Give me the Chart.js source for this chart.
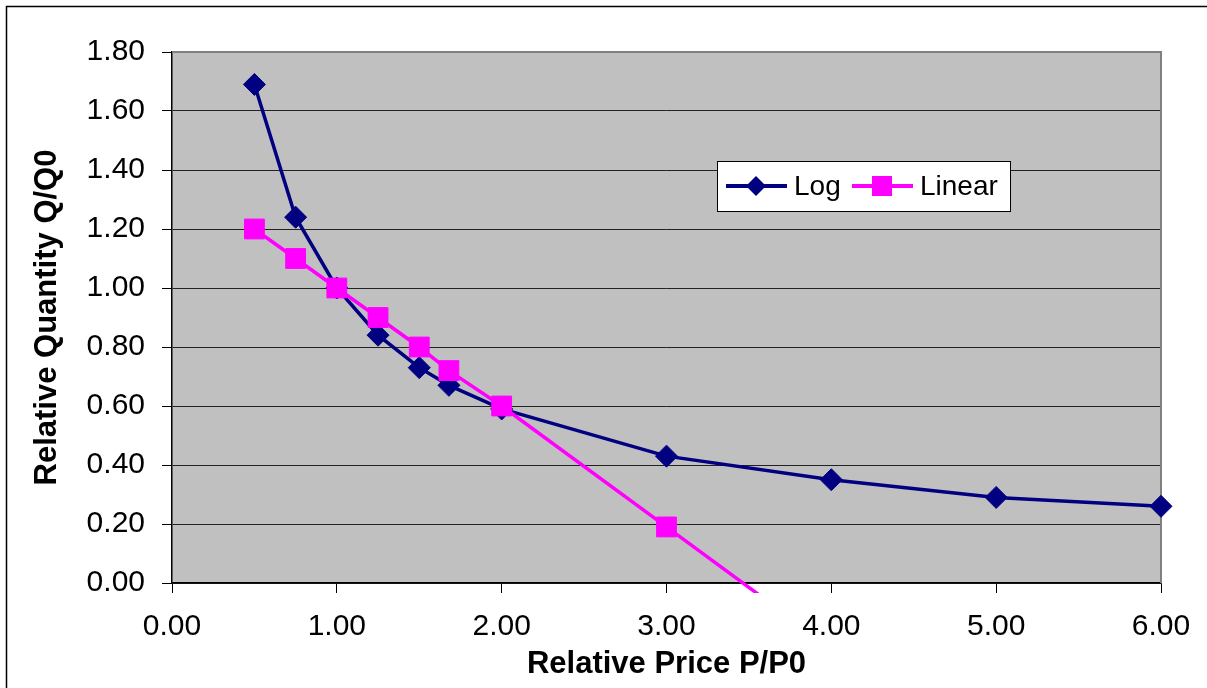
<!DOCTYPE html>
<html>
<head>
<meta charset="utf-8">
<script src="https://cdn.jsdelivr.net/npm/chart.js@4/dist/chart.umd.min.js"></script>
<style>
  body { margin: 0; background: #fff; }
  canvas { display: block; }
</style>
</head>
<body>
<canvas id="demandChart" width="1207" height="688"></canvas>
<script>
// data
const prices = [0.5, 0.75, 1.0, 1.25, 1.5, 1.68, 2.0, 3.0, 4.0, 5.0, 6.0]
const logQty = [1.69, 1.24, 1.0, 0.84, 0.73, 0.67, 0.59, 0.43, 0.35, 0.29, 0.26]
const linearQty = [1.2, 1.1, 1.0, 0.9, 0.8, 0.72, 0.6, 0.19, -0.22]
const xTicks = [0, 1, 2, 3, 4, 5, 6]
const yTicks = [0, 0.2, 0.4, 0.6, 0.8, 1.0, 1.2, 1.4, 1.6, 1.8]

const NAVY = '#000080'
const MAGENTA = '#ff00ff'
const FONT = 'Arial, "Liberation Sans", sans-serif'

const toPoints = (ys) => ys.map((y, i) => ({ x: prices[i], y: y }))

// grey plot area, frame and outer border
const plotFrame = {
  id: 'plotFrame',
  beforeDraw(chart) {
    const { ctx, chartArea: a } = chart
    ctx.save()
    ctx.fillStyle = '#c0c0c0'
    ctx.fillRect(a.left, a.top, a.right - a.left, a.bottom - a.top)
    ctx.strokeStyle = '#000'
    ctx.lineWidth = 1.5
    ctx.strokeRect(6.5, 6.5, 1400, 1000)
    ctx.restore()
  },
  beforeDatasetsDraw(chart) {
    const { ctx, chartArea: a } = chart
    ctx.save()
    ctx.strokeStyle = '#808080'
    ctx.lineWidth = 2
    ctx.beginPath()
    ctx.moveTo(a.left, a.top)
    ctx.lineTo(a.right, a.top)
    ctx.lineTo(a.right, a.bottom)
    ctx.stroke()
    ctx.restore()
  }
}

// boxed legend inside the plot, like the original
const boxLegend = {
  id: 'boxLegend',
  afterDraw(chart) {
    const ctx = chart.ctx
    const x0 = 717, y0 = 161, w = 293, h = 50
    const cy = y0 + h / 2
    ctx.save()
    ctx.fillStyle = '#fff'
    ctx.fillRect(x0, y0, w, h)
    ctx.strokeStyle = '#000'
    ctx.lineWidth = 1
    ctx.strokeRect(x0 + 0.5, y0 + 0.5, w, h)

    chart.data.datasets.forEach((ds, i) => {
      const lx = i === 0 ? 726 : 852
      const mx = lx + 30
      ctx.strokeStyle = ds.borderColor
      ctx.lineWidth = 4
      ctx.beginPath()
      ctx.moveTo(lx, cy)
      ctx.lineTo(lx + 61, cy)
      ctx.stroke()
      ctx.fillStyle = ds.borderColor
      ctx.beginPath()
      if (ds.pointStyle === 'rectRot') {
        ctx.moveTo(mx, cy - 10)
        ctx.lineTo(mx + 10, cy)
        ctx.lineTo(mx, cy + 10)
        ctx.lineTo(mx - 10, cy)
        ctx.closePath()
      } else {
        ctx.rect(mx - 10, cy - 10, 20, 20)
      }
      ctx.fill()
      ctx.fillStyle = '#000'
      ctx.font = '28px ' + FONT
      ctx.textBaseline = 'middle'
      ctx.fillText(ds.label, lx + 68, cy + 1)
    })
    ctx.restore()
  }
}

new Chart(document.getElementById('demandChart'), {
  type: 'line',
  data: {
    datasets: [
      {
        label: 'Log',
        data: toPoints(logQty),
        order: 1,
        borderColor: NAVY,
        backgroundColor: NAVY,
        borderWidth: 3.5,
        pointStyle: 'rectRot',
        pointRadius: 11,
        pointBorderWidth: 1,
        clip: 15
      },
      {
        label: 'Linear',
        data: toPoints(linearQty),
        order: 0,
        borderColor: MAGENTA,
        backgroundColor: MAGENTA,
        borderWidth: 3.5,
        pointStyle: 'rect',
        pointRadius: 14,
        pointBorderWidth: 1,
        clip: { left: 15, top: 15, right: 15, bottom: 10 }
      }
    ]
  },
  options: {
    responsive: false,
    animation: false,
    devicePixelRatio: 1,
    layout: { padding: { left: 0, top: 52, right: 46, bottom: 0 } },
    plugins: {
      legend: { display: false },
      tooltip: { enabled: false }
    },
    scales: {
      x: {
        type: 'linear',
        min: 0,
        max: 6,
        afterFit: (s) => { s.height = 105 },
        afterBuildTicks: (s) => { s.ticks = xTicks.map((v) => ({ value: v })) },
        grid: { drawOnChartArea: false, tickLength: 10, tickColor: '#000', lineWidth: 1 },
        border: { color: '#000', width: 1.5 },
        ticks: {
          color: '#000',
          padding: 16,
          maxRotation: 0,
          font: { family: FONT, size: 30 },
          callback: (v) => Number(v).toFixed(2)
        },
        title: {
          display: true,
          text: 'Relative Price P/P0',
          color: '#000',
          padding: { top: 0, bottom: 5 },
          font: { family: FONT, size: 31, weight: 'bold' }
        }
      },
      y: {
        type: 'linear',
        min: 0,
        max: 1.8,
        afterFit: (s) => { s.width = 172 },
        afterBuildTicks: (s) => { s.ticks = yTicks.map((v) => ({ value: v })) },
        grid: { color: '#222', lineWidth: 1, tickLength: 10, tickColor: '#000' },
        border: { color: '#000', width: 1.5 },
        ticks: {
          color: '#000',
          padding: 17,
          font: { family: FONT, size: 30 },
          callback: (v) => Number(v).toFixed(2)
        },
        title: {
          display: true,
          text: 'Relative Quantity Q/Q0',
          color: '#000',
          padding: { top: 29, bottom: 0 },
          font: { family: FONT, size: 31, weight: 'bold' }
        }
      }
    }
  },
  plugins: [plotFrame, boxLegend]
})
</script>
</body>
</html>
